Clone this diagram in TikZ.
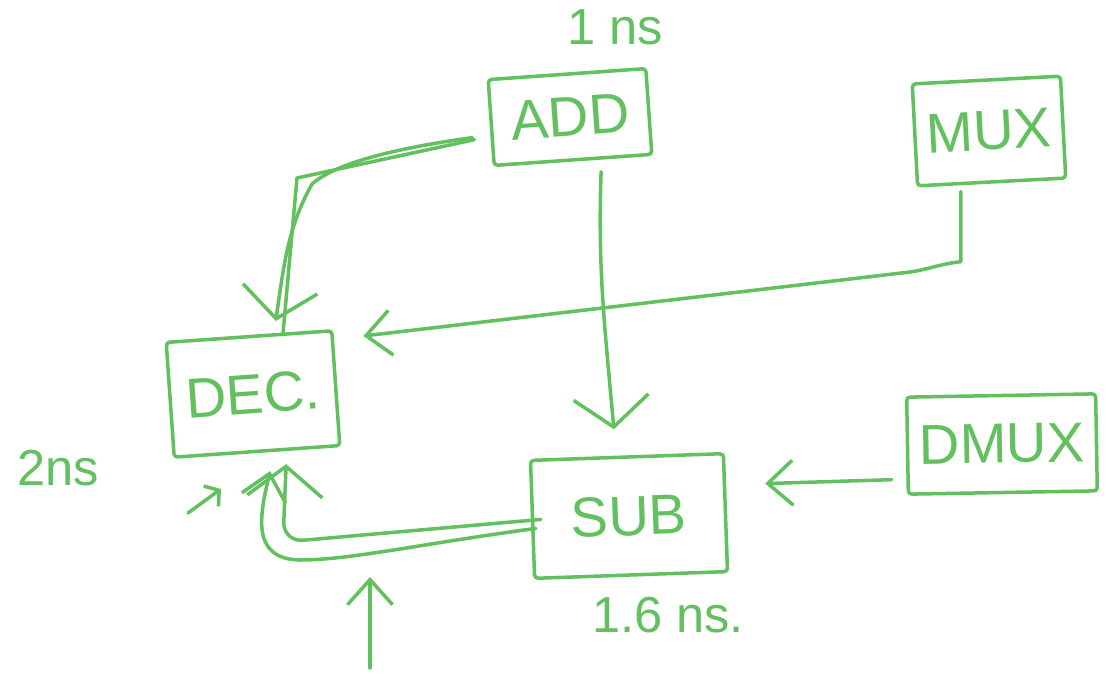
\documentclass[tikz,border=0pt]{standalone}
\usepackage{fontspec}
\setmainfont{Liberation Sans}
\usetikzlibrary{arrows.meta}
\definecolor{pen}{RGB}{98,192,94}

\begin{document}
\begin{tikzpicture}[
    color=pen,
    block/.style={draw, rectangle, line width=1pt, rounded corners=1pt,
                  font=\fontsize{16}{18}\selectfont},
    note/.style={font=\Large},
    wire/.style={line width=1pt, line cap=round, line join=round},
    arr/.style={wire, -{Straight Barb[length=2.5mm,width=4.5mm]}},
    bigarr/.style={wire, -{Straight Barb[length=3mm,width=7.5mm]}}
]
    \useasboundingbox (0,0) rectangle (11.07,6.74);

    % The five blocks
    \node[block, minimum width=1.58cm, minimum height=0.86cm, rotate=4] (add) at (5.70,5.57) {ADD};
    \node[block, minimum width=1.38cm, minimum height=1.02cm, rotate=3] (mux) at (9.89,5.43) {MUX};
    \node[block, minimum width=1.66cm, minimum height=1.15cm, rotate=4] (dec) at (2.53,2.80) {DEC.};
    \node[block, minimum width=1.93cm, minimum height=1.18cm, rotate=2] (sub) at (6.29,1.58) {SUB};
    \node[block, minimum width=1.86cm, minimum height=0.97cm, rotate=1] (dmux) at (10.02,2.30) {DMUX};

    % Delay notes
    \node[note] (tadd) at (6.15,6.47) {1 ns};
    \node[note] (tdec) at (0.58,2.06) {2ns};
    \node[note] (tsub) at (6.68,0.59) {1.6 ns.};

    % ADD into the top of DEC (drawn twice)
    \coordinate (addbend) at (2.97,4.96);
    \draw[wire] ([shift={(-0.15,-0.17)}]add.west) -- (addbend) -- ([xshift=3.4mm]dec.north);
    \draw[bigarr] ([shift={(-0.17,-0.15)}]add.west)
        .. controls (3.9,5.25) and (3.35,5.1) .. (3.12,4.9)
        .. controls (2.9,4.5) and (2.85,4.2) .. ([shift={(0.27,0.14)}]dec.north);

    % ADD down to SUB
    \draw[bigarr] ([shift={(0.28,-0.1)}]add.south) to[out=-92,in=95] ([shift={(-0.13,0.26)}]sub.north);

    % MUX round to the side of DEC
    \coordinate (muxbend) at (9.10,4.02);
    \draw[arr] ([shift={(-0.31,-0.08)}]mux.south) -- ++(0,-0.70)
        .. controls (9.40,4.10) and (9.30,4.05) .. (muxbend)
        -- ([shift={(0.30,-0.07)}]dec.north east);

    % DMUX back into SUB
    \draw[arr] ([shift={(-0.14,-0.34)}]dmux.west) -- ([shift={(0.38,0.29)}]sub.east);

    % SUB feeding DEC from below
    \draw[bigarr, rounded corners=2mm] ([xshift=1mm]sub.west) -- (2.83,1.32) -- ([shift={(0.29,-0.11)}]dec.south);
    \draw[arr] ([shift={(0.05,-0.09)}]sub.west)
        .. controls (4.2,1.30) and (3.5,1.14) .. (3.00,1.14)
        .. controls (2.50,1.15) and (2.60,1.60) .. ([shift={(0.13,-0.18)}]dec.south);

    % outside input and the small mark under DEC
    \coordinate (inlow) at (3.70,0.06);
    \coordinate (inhigh) at (3.70,0.97);
    \draw[arr] (inlow) -- (inhigh);
    \coordinate (marklow) at (1.88,1.61);
    \coordinate (markhigh) at (2.21,1.85);
    \draw[wire, -{Straight Barb[length=1mm,width=2.5mm]}] (marklow) -- (markhigh);
\end{tikzpicture}
\end{document}
